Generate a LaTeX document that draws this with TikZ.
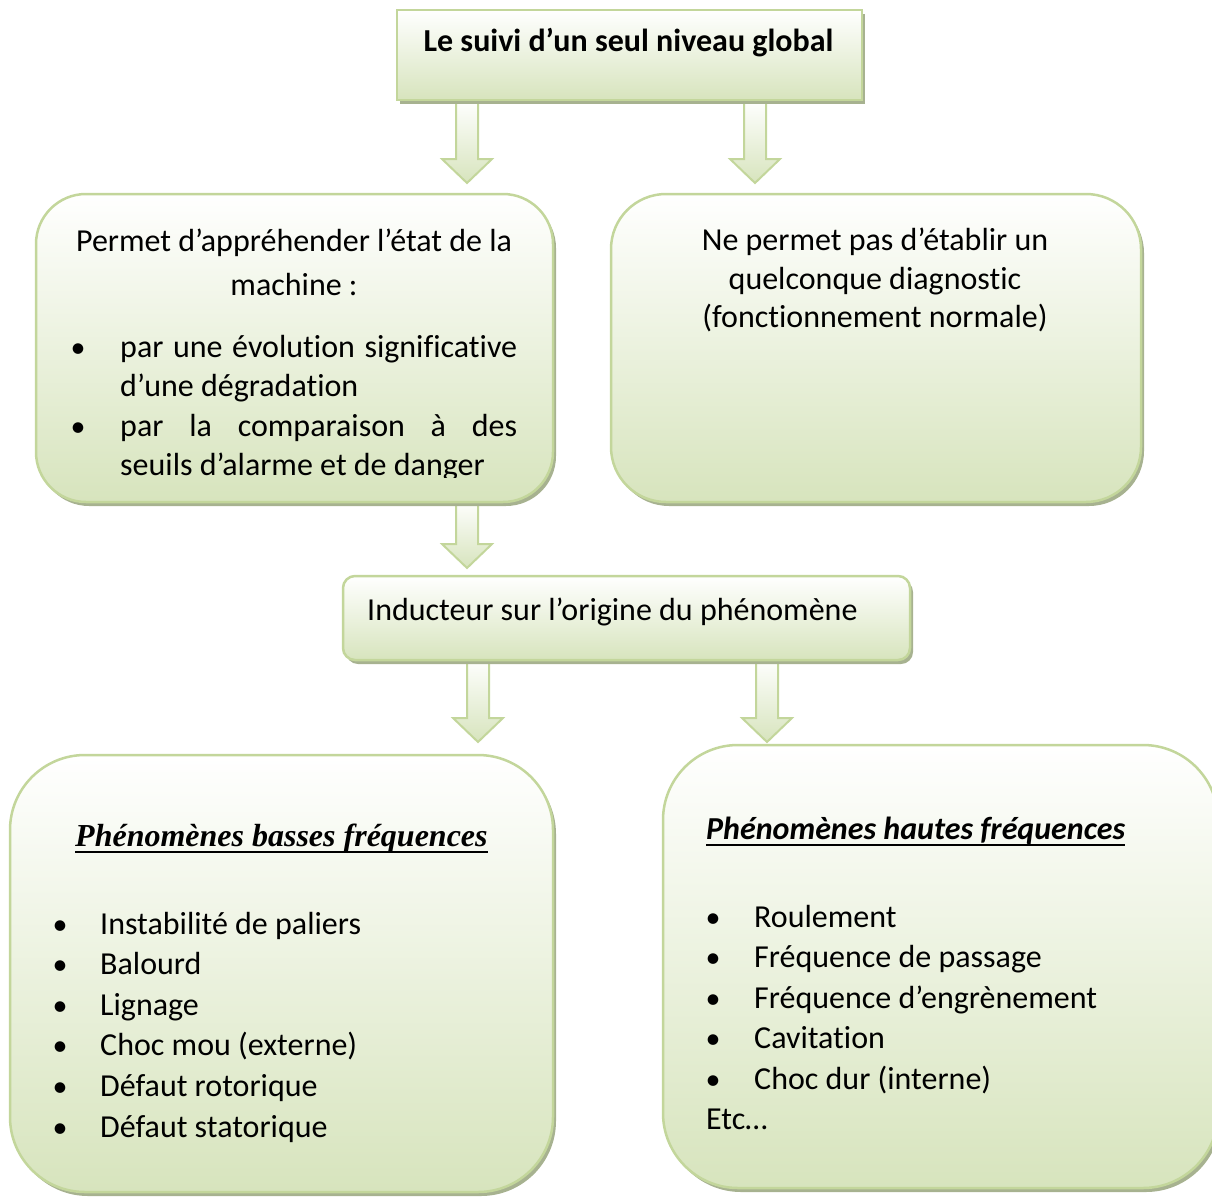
\documentclass[tikz,border=0pt]{standalone}
\usepackage{fontspec}
\setmainfont[Ligatures=NoCommon]{Carlito}
\newfontfamily\timesfont{Liberation Serif}
\usetikzlibrary{calc,shadows}

\definecolor{boxfill}{HTML}{D7E4BD}
\definecolor{boxline}{HTML}{C3D69B}
\definecolor{boxshadow}{HTML}{A7B290}

\tikzset{
  box/.style={draw=boxline, line width=2.5pt, top color=white, bottom color=boxfill,
    inner sep=0pt, drop shadow={shadow xshift=3pt, shadow yshift=-4pt, fill=boxshadow, opacity=1}},
  arrowstyle/.style={draw=boxline, line width=2pt, top color=white, bottom color=boxfill},
  txt/.style={inner sep=0pt, anchor=base, font=\fontsize{32}{39}\selectfont},
  txtl/.style={txt, anchor=base west},
  dot/.style={txt, font=\fontsize{30}{36}\selectfont},
  uline/.style={line width=2.4pt}
}

% block arrow from a start point down to a tip point
\newcommand\blockarrow[2]{%
  \shadedraw[arrowstyle] let \p1=(#1), \p2=(#2) in
    (\x1-11pt,\y1) -- (\x1+11pt,\y1) -- (\x1+11pt,\y2+24pt) -- (\x1+25pt,\y2+24pt)
    -- (\x2,\y2) -- (\x1-25pt,\y2+24pt) -- (\x1-11pt,\y2+24pt) -- cycle;}

\begin{document}
\begin{tikzpicture}[x=1pt,y=-1pt]
\useasboundingbox (0,0) rectangle (1212,1196);

% arrows first, so that the boxes cover their tails
\coordinate (a1s) at (467,100);
\coordinate (a1e) at (467,183);
\coordinate (a2s) at (755,100);
\coordinate (a2e) at (755,183);
\coordinate (a3s) at (467,500);
\coordinate (a3e) at (467,568);
\coordinate (a4s) at (478,658);
\coordinate (a4e) at (478,742);
\coordinate (a5s) at (767,658);
\coordinate (a5e) at (767,742);
\blockarrow{a1s}{a1e}
\blockarrow{a2s}{a2e}
\blockarrow{a3s}{a3e}
\blockarrow{a4s}{a4e}
\blockarrow{a5s}{a5e}

% boxes
\node[box, minimum width=465pt, minimum height=90pt] (top) at (629.5,55) {};
\node[box, rounded corners=50pt, minimum width=517pt, minimum height=308pt] (perm) at (294.5,348) {};
\node[box, rounded corners=55pt, minimum width=530pt, minimum height=308pt] (nodiag) at (876,348) {};
\node[box, rounded corners=12pt, minimum width=567pt, minimum height=84pt] (mid) at (626.5,618) {};
\node[box, rounded corners=75pt, minimum width=543pt, minimum height=437pt] (low) at (281.5,973.5) {};
\node[box, rounded corners=75pt, minimum width=555pt, minimum height=443pt] (high) at (940.5,966.5) {};

% top box text
\node[txt, font=\fontsize{32}{38}\selectfont\bfseries] (ttop) at (628.5,52) {Le suivi d’un seul niveau global};

% left box text
\node[txt] (p1) at (294,251) {Permet d’appréhender l’état de la};
\node[txt] (p2) at (294,295) {machine :};
\begin{scope}
  \clip (36,194) rectangle (560,477);
  \node[dot] (pb1) at (78,357) {•};
  \node[txtl] (pl1) at (120,357) {\makebox[397pt][s]{par une évolution significative}};
  \node[txtl] (pl2) at (120,396) {d’une dégradation};
  \node[dot] (pb2) at (78,436) {•};
  \node[txtl] (pl3) at (120,436) {\makebox[397pt][s]{par la comparaison à des}};
  \node[txtl] (pl4) at (120,475) {seuils d’alarme et de danger};
\end{scope}

% right box text
\node[txt] (n1) at (875,250) {Ne permet pas d’établir un};
\node[txt] (n2) at (875,289) {quelconque diagnostic};
\node[txt] (n3) at (875,327) {(fonctionnement normale)};

% middle box text
\node[txtl] (mtxt) at (367,620) {Inducteur sur l’origine du phénomène};

% low-frequency box
\node[txtl, font=\fontsize{32}{38}\selectfont\timesfont\bfseries\itshape] (lt) at (75,846) {Phénomènes basses fréquences};
\draw[uline] ($(lt.base west)+(0,-6pt)$) -- ($(lt.base east)+(0,-6pt)$);
\foreach \t [count=\i] in {Instabilité de paliers, Balourd, Lignage, Choc mou (externe), Défaut rotorique, Défaut statorique}{
  \node[dot] (lb\i) at (60,{934+40.6*(\i-1)}) {•};
  \node[txtl] (li\i) at (100,{934+40.6*(\i-1)}) {\t};
}

% high-frequency box
\node[txtl, font=\fontsize{32}{38}\selectfont\bfseries\itshape] (ht) at (706,839) {Phénomènes hautes fréquences};
\draw[uline] ($(ht.base west)+(0,-6pt)$) -- ($(ht.base east)+(0,-6pt)$);
\foreach \t [count=\i] in {Roulement, Fréquence de passage, Fréquence d’engrènement, Cavitation, Choc dur (interne)}{
  \node[dot] (hb\i) at (713,{927+40.6*(\i-1)}) {•};
  \node[txtl] (hi\i) at (754,{927+40.6*(\i-1)}) {\t};
}
\node[txtl] (etc) at (706,1129) {Etc…};
\end{tikzpicture}
\end{document}
